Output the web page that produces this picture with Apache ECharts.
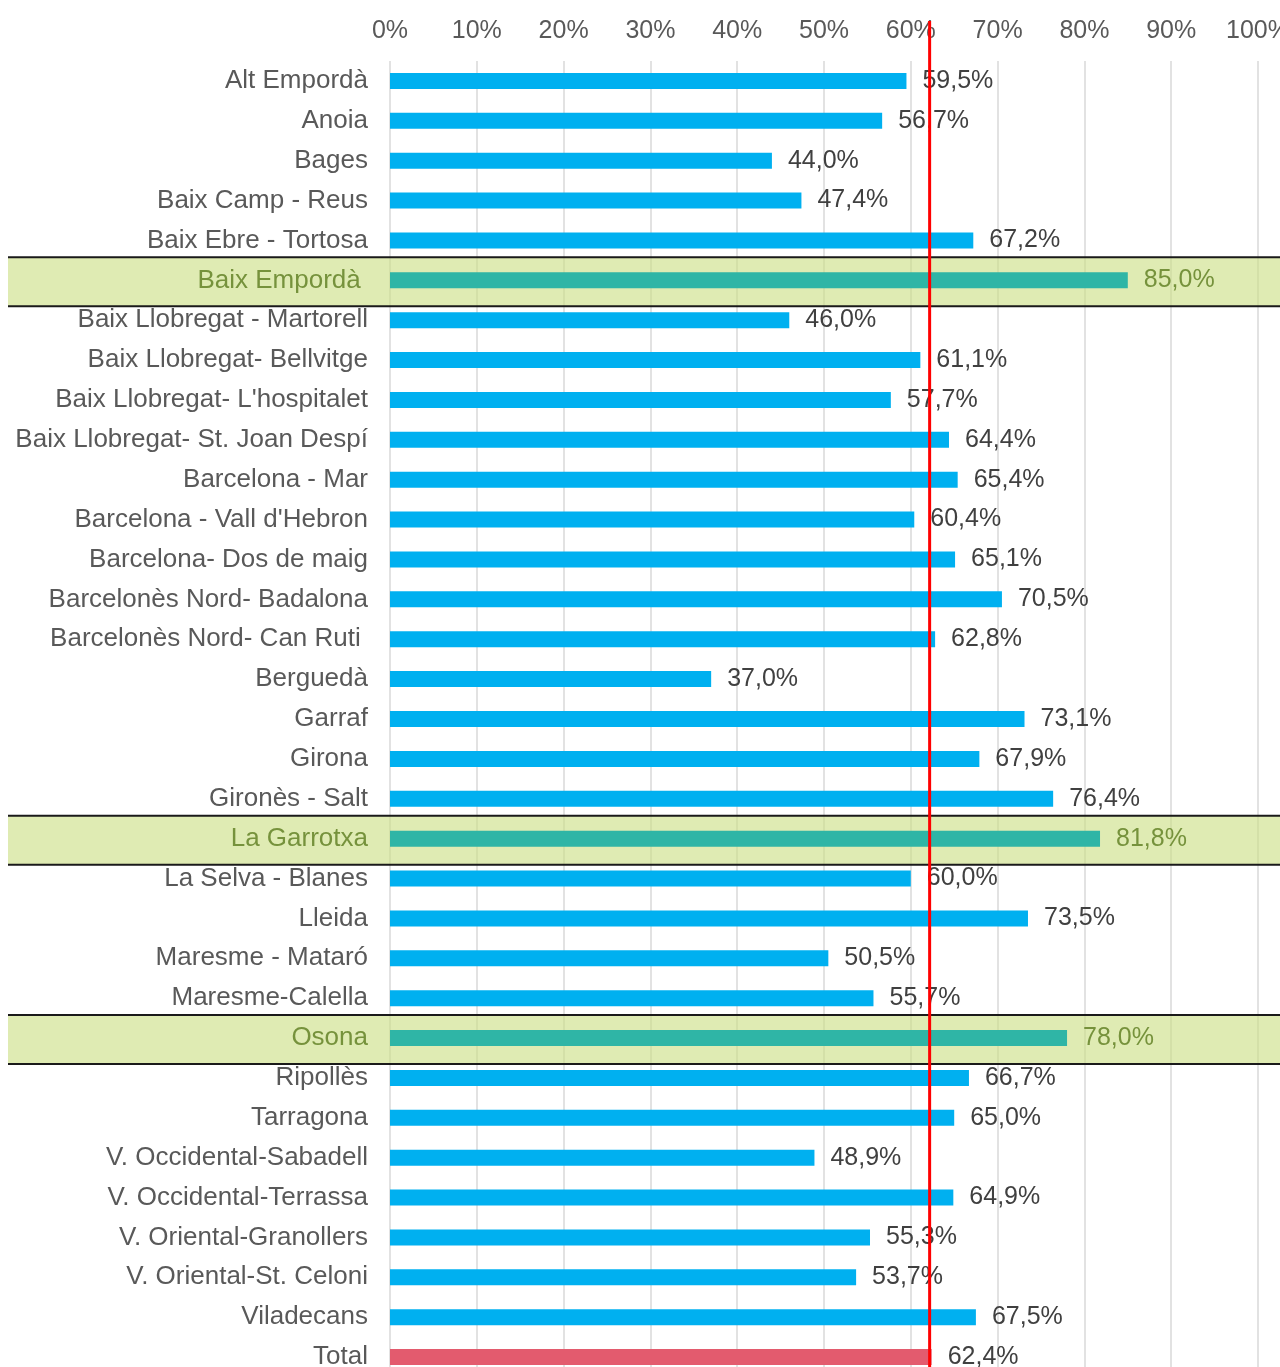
<!DOCTYPE html>
<html>
<head>
<meta charset="utf-8">
<script src="https://cdn.jsdelivr.net/npm/echarts@6/dist/echarts.min.js"></script>
<style>html,body{margin:0;padding:0;background:#fff}#c{width:1280px;height:1367px}</style>
</head>
<body>
<div id="c"></div>
<script>
const categories = ["Alt Empordà","Anoia","Bages","Baix Camp - Reus","Baix Ebre - Tortosa","Baix Empordà ","Baix Llobregat - Martorell","Baix Llobregat- Bellvitge","Baix Llobregat- L'hospitalet","Baix Llobregat- St. Joan Despí","Barcelona - Mar","Barcelona - Vall d'Hebron","Barcelona- Dos de maig","Barcelonès Nord- Badalona","Barcelonès Nord- Can Ruti ","Berguedà","Garraf","Girona","Gironès - Salt","La Garrotxa","La Selva - Blanes","Lleida","Maresme - Mataró","Maresme-Calella","Osona","Ripollès","Tarragona","V. Occidental-Sabadell","V. Occidental-Terrassa","V. Oriental-Granollers","V. Oriental-St. Celoni","Viladecans","Total"];
const values = [59.5,56.7,44.0,47.4,67.2,85.0,46.0,61.1,57.7,64.4,65.4,60.4,65.1,70.5,62.8,37.0,73.1,67.9,76.4,81.8,60.0,73.5,50.5,55.7,78.0,66.7,65.0,48.9,64.9,55.3,53.7,67.5,62.4];
const highlighted = ["Baix Empordà ","La Garrotxa","Osona"];
const totalCategory = "Total";
const xTicks = [0,10,20,30,40,50,60,70,80,90,100];

const FONT = "Liberation Sans";
const C_BLUE = "#00b0f0", C_TEAL = "#2fb5a6", C_RED = "#e35b6e", C_OLIVE = "#76923c", C_TEXT = "#595959";

const chart = echarts.init(document.getElementById('c'), null, {renderer:'canvas'});
const fmt = v => v.toFixed(1).replace('.', ',') + '%';

const data = values.map((v, i) => {
  const c = categories[i];
  const hi = highlighted.includes(c);
  const tot = c === totalCategory;
  return {
    value: v,
    itemStyle: {color: hi ? C_TEAL : (tot ? C_RED : C_BLUE)},
    label: {color: hi ? C_OLIVE : '#404040'}
  };
});

chart.setOption({
  animation: false,
  grid: {left: 390, right: 22, top: 61, height: 1316, outerBoundsMode: 'none', containLabel: false},
  xAxis: {
    type: 'value', position: 'top', min: xTicks[0], max: xTicks[xTicks.length - 1], interval: xTicks[1] - xTicks[0],
    axisLine: {show: false}, axisTick: {show: false},
    splitLine: {show: true, lineStyle: {color: '#d9d9d9', width: 1.5}},
    axisLabel: {formatter: v => v + '%', fontFamily: FONT, fontSize: 25, color: C_TEXT, margin: 17}
  },
  yAxis: {
    type: 'category', data: categories, inverse: true, z: 5,
    axisLine: {show: false}, axisTick: {show: false},
    axisLabel: {
      fontFamily: FONT, fontSize: 26, margin: 22, padding: [4, 0, 0, 0],
      color: (v) => highlighted.includes(v) ? C_OLIVE : C_TEXT
    }
  },
  series: [{
    type: 'bar', data: data, barWidth: 16, z: 3,
    label: {show: true, position: 'right', distance: 16, fontFamily: FONT, fontSize: 25,
      padding: [3, 0, 0, 0], formatter: p => fmt(p.value)}
  }]
});

function drawDecor() {
  const g = [];
  highlighted.forEach(c => {
    const y = chart.convertToPixel({yAxisIndex: 0}, c);
    const top = y - 23, h = 49;
    g.push({type: 'rect', z: 1, shape: {x: 8, y: top, width: 1280, height: h},
      style: {fill: 'rgba(201,222,128,0.6)'}, silent: true});
    g.push({type: 'line', z: 6, shape: {x1: 8, y1: top, x2: 1280, y2: top}, style: {stroke: '#1a1a1a', lineWidth: 2}});
    g.push({type: 'line', z: 6, shape: {x1: 8, y1: top + h, x2: 1280, y2: top + h}, style: {stroke: '#1a1a1a', lineWidth: 2}});
  });
  const totalVal = values[categories.indexOf(totalCategory)];
  const x = chart.convertToPixel({xAxisIndex: 0}, totalVal) - 2;
  g.push({type: 'line', z: 7, shape: {x1: x, y1: 21, x2: x, y2: 1367}, style: {stroke: '#ff0000', lineWidth: 3}});
  chart.setOption({graphic: g});
}
drawDecor();
</script>
</body>
</html>
